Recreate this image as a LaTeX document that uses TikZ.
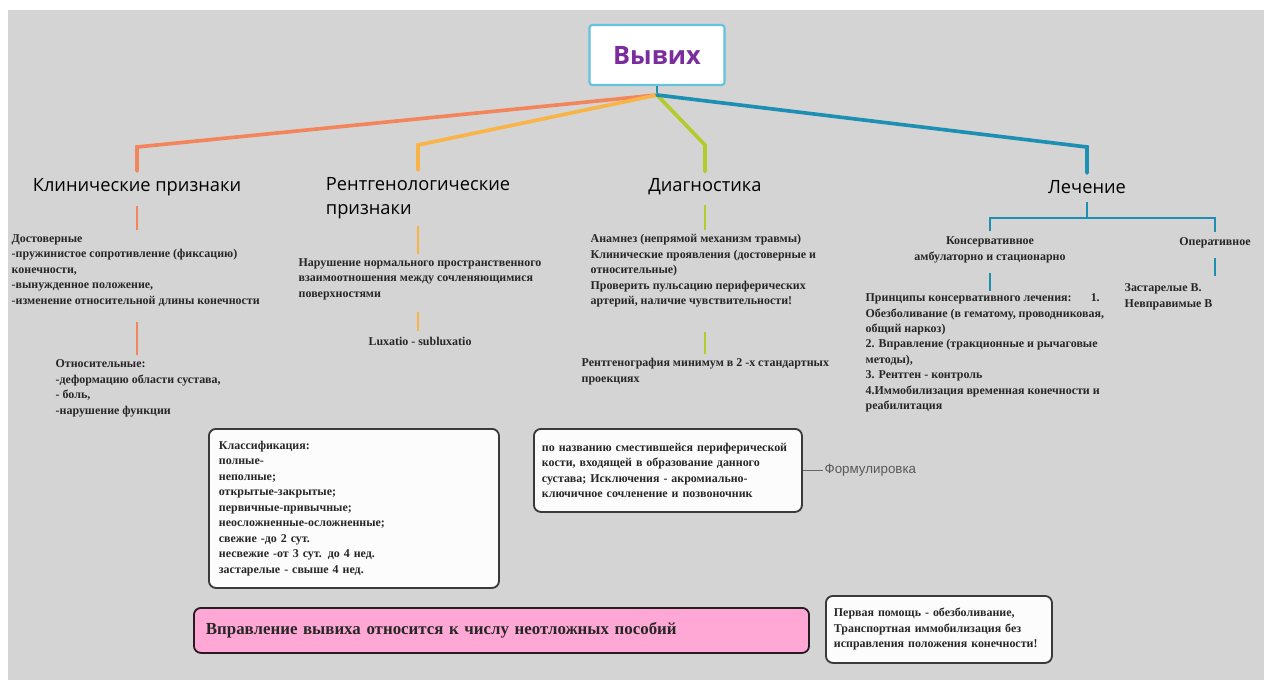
\documentclass[tikz,border=0pt]{standalone}
\usepackage{fontspec}
\setmainfont{Liberation Serif}
\newfontfamily\headfont{Open Sans}
\newfontfamily\labelfont{Liberation Sans}
\definecolor{bgc}{HTML}{D4D4D4}
\definecolor{redbr}{HTML}{F2855C}
\definecolor{orbr}{HTML}{F8B447}
\definecolor{grbr}{HTML}{B4CB2C}
\definecolor{tlbr}{HTML}{1C8FB2}
\definecolor{rootbd}{HTML}{62C2E0}
\definecolor{titlec}{HTML}{7B2D9E}
\definecolor{pinkc}{HTML}{FFA8D5}
\definecolor{cardbd}{HTML}{3A3A3A}

\begin{document}
\begin{tikzpicture}[x=0.025cm,y=-0.025cm,
	heading/.style={font=\headfont\fontsize{13}{17}\selectfont, align=left, inner sep=1pt},
	note/.style={font=\bfseries\fontsize{8.5}{11}\selectfont, align=left, inner sep=1pt, text=black!85},
	branch/.style={line width=2.6pt, line cap=round, shorten >=4pt},
	twig/.style={line width=1.1pt},
	card/.style={note, draw=cardbd, line width=1.3pt, fill=white!93!bgc, rounded corners=5pt, anchor=north west, inner xsep=0.2cm}]
	\useasboundingbox (0,0) rectangle (1268,684);
	\fill[white] (0,0) rectangle (1268,684);
	\fill[bgc] (8,10) rectangle (1264,680);

	% root
	\node[draw=rootbd, fill=white, line width=1.5pt, rounded corners=2pt, minimum width=3.375cm, minimum height=1.5cm,
		font=\headfont\bfseries\fontsize{18}{22}\selectfont, text=titlec] (root) at (657,55) {Вывих};
	\coordinate (hub) at (657,95);
	\draw[tlbr, line width=2pt] (root) -- (hub);

	% headings
	\node[heading] (clin) at (137,187) {Клинические признаки};
	\node[heading] (xray) at (418,198) {Рентгенологические\\признаки};
	\node[heading] (diag) at (705,187) {Диагностика};
	\node[heading] (treat) at (1087,187) {Лечение};

	\coordinate (e1) at (137,147);
	\coordinate (e2) at (418,145);
	\coordinate (e3) at (705,145);
	\coordinate (e4) at (1087,147);
	\draw[branch, redbr] (hub) -- (e1) -- (clin);
	\draw[branch, orbr] (hub) -- (e2) -- (xray);
	\draw[branch, grbr] (hub) -- (e3) -- (diag);
	\draw[branch, tlbr] (hub) -- (e4) -- (treat);

	% Клинические признаки
	\node[note, anchor=north west] (sure) at (10,233) {Достоверные\\-пружинистое сопротивление (фиксацию)\\конечности,\\-вынужденное положение,\\-изменение относительной длины конечности};
	\node[note, anchor=north west] (rel) at (54,358) {Относительные:\\-деформацию области сустава,\\- боль,\\-нарушение функции};
	\draw[twig, redbr, shorten <=6pt, shorten >=2pt] (clin.south) -- (clin.south |- sure.north);
	\draw[twig, redbr, shorten <=10pt, shorten >=2pt] (sure.south -| clin) -- (rel.north -| clin);

	% Рентгенологические признаки
	\node[note, anchor=north west] (shift) at (297,257) {Нарушение нормального пространственного\\взаимоотношения между  сочленяющимися\\поверхностями};
	\node[note] (lux) at (420,341) {Luxatio - subluxatio};
	\draw[twig, orbr, shorten <=4pt, shorten >=2pt] (xray.south) -- (xray.south |- shift.north);
	\draw[twig, orbr, shorten <=7pt, shorten >=3pt] (shift.south -| xray) -- (lux.north -| xray);

	% Диагностика
	\node[note, anchor=north west] (hist) at (589,233) {Анамнез (непрямой механизм травмы)\\Клинические проявления (достоверные и\\относительные)\\Проверить пульсацию периферических\\артерий, наличие чувствительности!};
	\node[note, anchor=north west] (film) at (580,357) {Рентгенография минимум в 2 -х стандартных\\проекциях};
	\draw[twig, grbr, shorten <=6pt, shorten >=2pt] (diag.south) -- (diag.south |- hist.north);
	\draw[twig, grbr, shorten <=16pt, shorten >=2pt] (hist.south -| diag) -- (film.north -| diag);

	% Лечение
	\coordinate (fork) at (1087,218);
	\node[note, align=center] (cons) at (990,250) {Консервативное\\амбулаторно и стационарно};
	\node[note] (oper) at (1215,243) {Оперативное};
	\node[note, anchor=north west] (old) at (1123,282) {Застарелые В.\\Невправимые В};
	\node[note, anchor=north west] (rules) at (864,292) {Принципы консервативного лечения:\hspace{1.6em}1.\\Обезболивание (в гематому, проводниковая,\\общий наркоз)\\2. Вправление (тракционные и  рычаговые\\методы),\\3. Рентген - контроль\\4.Иммобилизация временная  конечности и\\реабилитация};
	\draw[twig, tlbr, shorten <=5pt] (treat.south) -- (fork);
	\draw[twig, tlbr, shorten <=3pt] (cons.north) |- (fork) -| ([yshift=3pt]oper.north);
	\draw[twig, tlbr, shorten <=6pt, shorten >=1pt] (cons.south) -- (cons.south |- rules.north);
	\draw[twig, tlbr, shorten <=6pt, shorten >=4pt] (oper.south) -- (oper.south |- old.north);

	% cards
	\node[card, inner xsep=0.25cm, text width=6.75cm, minimum height=3.975cm] (kinds) at (208,428) {Классификация:\\полные-\\неполные;\\открытые-закрытые;\\первичные-привычные;\\неосложненные-осложненные;\\свежие -до 2 сут.\\несвежие -от 3  сут. до 4 нед.\\застарелые - свыше 4 нед.};
	\node[card, text width=6.3cm, minimum height=2.075cm] (name) at (533,428) {по названию сместившейся периферической\\кости, входящей в образование данного\\сустава; Исключения - акромиально-\\ключичное сочленение и позвоночник};
	\node[font=\labelfont\fontsize{9.5}{11}\selectfont, text=black!65, anchor=west, inner sep=1pt] (form) at ([xshift=0.5cm]name.east) {Формулировка};
	\draw[black!60, line width=0.8pt] (name.east) -- (form.west);

	\node[card, draw=black!60!pinkc!40!black, fill=pinkc, inner xsep=0.3cm, text width=14.775cm, minimum height=1.125cm,
		font=\bfseries\fontsize{12}{14}\selectfont] (urgent) at (193,607) {Вправление вывиха относится к числу неотложных пособий};
	\node[card, text width=5.25cm, minimum height=1.675cm] (aid) at (825,595) {Первая помощь - обезболивание,\\Транспортная иммобилизация без\\исправления положения конечности!};
\end{tikzpicture}
\end{document}
